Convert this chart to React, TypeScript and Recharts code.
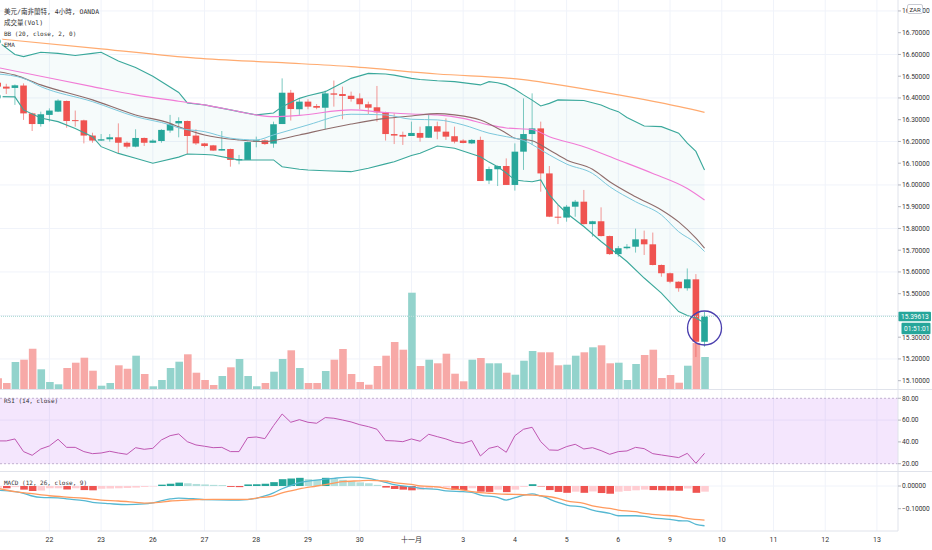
import React from 'react';
import {
  ComposedChart, Bar, Line, Area, XAxis, YAxis, CartesianGrid,
  ReferenceLine, ReferenceArea, ReferenceDot, Cell,
} from 'recharts';

// USD/ZAR 4h bars; bar -1 sits half outside the left edge of the pane
const FIRST_BAR = -1;

const opens = [
  16.470, 16.452, 16.446, 16.457, 16.329, 16.280, 16.322, 16.337, 16.386, 16.298,
  16.297, 16.227, 16.204, 16.210, 16.219, 16.194, 16.176, 16.216, 16.194, 16.202,
  16.250, 16.283, 16.294, 16.227, 16.191, 16.182, 16.158, 16.165, 16.113, 16.115,
  16.199, 16.205, 16.190, 16.280, 16.424, 16.348, 16.383, 16.363, 16.355, 16.421,
  16.418, 16.410, 16.398, 16.371, 16.357, 16.334, 16.234, 16.230, 16.225, 16.239,
  16.217, 16.270, 16.245, 16.224, 16.204, 16.191, 16.207, 16.020, 16.072, 16.087,
  16.000, 16.153, 16.234, 16.260, 16.053, 15.854, 15.850, 15.900, 15.923, 15.820,
  15.833, 15.765, 15.682, 15.709, 15.716, 15.750, 15.727, 15.632, 15.594, 15.555,
  15.525, 15.566, 15.279,
];
const highs = [
  16.480, 16.465, 16.462, 16.467, 16.332, 16.337, 16.352, 16.394, 16.388, 16.342,
  16.300, 16.240, 16.234, 16.234, 16.283, 16.200, 16.256, 16.218, 16.210, 16.256,
  16.322, 16.311, 16.296, 16.256, 16.193, 16.184, 16.248, 16.167, 16.138, 16.199,
  16.222, 16.210, 16.291, 16.490, 16.437, 16.394, 16.394, 16.372, 16.434, 16.480,
  16.452, 16.429, 16.421, 16.383, 16.455, 16.337, 16.329, 16.245, 16.291, 16.268,
  16.326, 16.291, 16.306, 16.268, 16.210, 16.211, 16.222, 16.084, 16.090, 16.122,
  16.191, 16.398, 16.421, 16.291, 16.087, 15.908, 15.908, 15.931, 15.977, 15.835,
  15.897, 15.767, 15.719, 15.728, 15.799, 15.790, 15.781, 15.634, 15.597, 15.557,
  15.616, 15.590, 15.417,
];
const lows = [
  16.445, 16.418, 16.368, 16.299, 16.248, 16.268, 16.291, 16.335, 16.263, 16.268,
  16.191, 16.194, 16.202, 16.199, 16.145, 16.168, 16.173, 16.179, 16.194, 16.194,
  16.240, 16.219, 16.142, 16.184, 16.173, 16.156, 16.158, 16.084, 16.095, 16.115,
  16.173, 16.184, 16.171, 16.280, 16.296, 16.322, 16.348, 16.348, 16.256, 16.360,
  16.302, 16.383, 16.348, 16.325, 16.291, 16.204, 16.188, 16.184, 16.225, 16.199,
  16.217, 16.210, 16.207, 16.191, 16.191, 16.188, 16.018, 16.004, 15.995, 16.000,
  15.974, 16.069, 16.184, 15.969, 15.852, 15.820, 15.831, 15.854, 15.818, 15.762,
  15.763, 15.678, 15.670, 15.704, 15.689, 15.678, 15.630, 15.578, 15.548, 15.509,
  15.514, 15.209, 15.256,
];
const closes = [
  16.452, 16.443, 16.458, 16.329, 16.280, 16.325, 16.342, 16.388, 16.294, 16.296,
  16.227, 16.204, 16.210, 16.219, 16.194, 16.176, 16.216, 16.194, 16.204, 16.253,
  16.280, 16.294, 16.225, 16.191, 16.179, 16.158, 16.165, 16.115, 16.119, 16.197,
  16.205, 16.188, 16.279, 16.424, 16.349, 16.383, 16.360, 16.355, 16.421, 16.415,
  16.409, 16.395, 16.371, 16.355, 16.334, 16.234, 16.227, 16.222, 16.239, 16.217,
  16.270, 16.245, 16.222, 16.199, 16.193, 16.207, 16.018, 16.073, 16.087, 16.000,
  16.153, 16.234, 16.260, 16.053, 15.854, 15.850, 15.900, 15.923, 15.820, 15.833,
  15.765, 15.682, 15.709, 15.716, 15.750, 15.727, 15.632, 15.594, 15.555, 15.525,
  15.566, 15.279, 15.396,
];
const volumes = [
  11.7, 7, 28, 30.3, 41.3, 20.7, 8, 5.7, 22, 27.3,
  32.3, 19.3, 4.3, 7, 24.7, 21.3, 34.3, 16, 3.7, 10,
  22, 28.3, 35.7, 17.3, 10, 5, 14, 22.7, 31, 14,
  3.7, 7, 18.3, 31, 39.7, 22, 7, 7, 19, 30.3,
  41, 16, 8, 5.3, 24, 34.3, 48, 40.3, 97.3, 24,
  30.3, 26.7, 36.3, 16.3, 8.7, 30.3, 32, 26.7, 26.7, 17.3,
  15.3, 29.3, 39, 37.7, 37.7, 24.7, 25.3, 34.3, 37.7, 42.7,
  44.7, 26.7, 27.3, 10, 26, 35, 40.3, 12, 15, 7.3,
  24.3, 47, 33,
];
const rsiValues = [
  40.9, 40.9, 42.7, 31.1, 27.7, 33.5, 36.3, 42.4, 35.0, 35.0,
  31.1, 29.2, 29.8, 31.4, 29.8, 28.6, 34.7, 33.2, 34.1, 41.8,
  45.7, 47.3, 40.2, 37.2, 36.0, 34.7, 35.0, 31.1, 31.1, 43.9,
  44.5, 43.0, 54.9, 65.6, 58.0, 60.4, 58.0, 57.1, 62.3, 61.7,
  60.1, 58.3, 55.8, 54.0, 51.6, 41.2, 40.9, 40.2, 42.7, 40.6,
  47.0, 44.8, 42.7, 39.9, 38.7, 41.2, 27.1, 34.1, 36.0, 30.5,
  45.7, 51.6, 53.4, 40.2, 32.6, 32.3, 35.7, 37.8, 33.5, 34.7,
  32.0, 28.6, 31.1, 31.7, 35.0, 33.8, 29.2, 28.0, 26.8, 25.6,
  29.5, 20.4, 29.5,
];
const histValues = [
  -0.008, -0.010, -0.005, -0.016, -0.022, -0.020, -0.010, -0.010, -0.015, -0.010,
  -0.018, -0.019, -0.012, -0.011, -0.010, -0.009, -0.007, -0.004, -0.002, 0.006,
  0.010, 0.015, 0.012, 0.009, 0.007, 0.005, 0.004, -0.004, -0.005, 0.007,
  0.008, 0.010, 0.017, 0.030, 0.033, 0.036, 0.030, 0.028, 0.036, 0.031,
  0.027, 0.021, 0.016, 0.012, 0.005, -0.007, -0.013, -0.016, -0.019, -0.017,
  -0.012, -0.008, -0.007, -0.017, -0.018, -0.010, -0.025, -0.026, -0.016, -0.027,
  -0.016, -0.004, 0.008, -0.002, -0.018, -0.026, -0.030, -0.025, -0.030, -0.024,
  -0.031, -0.034, -0.025, -0.022, -0.019, -0.016, -0.018, -0.019, -0.020, -0.021,
  -0.011, -0.030, -0.025,
];

// Bollinger bands, read at the same bars for both edges
const bbIdx = [
  -1, 1, 2, 4, 6, 8, 10, 11, 13, 15, 17, 20, 21, 23, 24, 26, 27, 29, 31, 32,
  34, 35, 37, 40, 42, 44, 45, 47, 48, 50, 52, 55, 56, 57, 58, 59, 60, 61, 62, 63,
  64, 65, 67, 69, 70, 71, 72, 74, 76, 78, 79, 80, 81,
];
const bbUpper = [
  16.66, 16.60, 16.59, 16.61, 16.605, 16.595, 16.605, 16.61, 16.57, 16.54,
  16.50, 16.425, 16.377, 16.368, 16.36, 16.345, 16.337, 16.322, 16.331, 16.360,
  16.398, 16.41, 16.429, 16.490, 16.513, 16.510, 16.505, 16.490, 16.485, 16.479,
  16.475, 16.460, 16.475, 16.47, 16.460, 16.44, 16.414, 16.39, 16.363, 16.375,
  16.391, 16.39, 16.388, 16.368, 16.35, 16.337, 16.31, 16.271, 16.268, 16.238,
  16.192, 16.154, 16.069,
];
const bbLower = [
  16.406, 16.405, 16.345, 16.308, 16.291, 16.26, 16.222, 16.176, 16.145, 16.123,
  16.100, 16.128, 16.142, 16.14, 16.138, 16.122, 16.115, 16.115, 16.115, 16.084,
  16.072, 16.069, 16.065, 16.061, 16.077, 16.097, 16.107, 16.135, 16.146, 16.179,
  16.169, 16.130, 16.105, 16.084, 16.055, 16.023, 16.018, 16.015, 16.023, 15.954,
  15.91, 15.870, 15.809, 15.74, 15.709, 15.68, 15.648, 15.572, 15.503, 15.418,
  15.40, 15.388, 15.365,
];

// moving averages, [bar, value]
const emaOrange = [
  [-1, 16.672], [11, 16.626], [22, 16.583], [32, 16.562], [40, 16.544], [50, 16.51],
  [60, 16.484], [63, 16.467], [71, 16.414], [76, 16.377], [81, 16.334],
];
const emaPink = [
  [-1, 16.54], [4, 16.50], [10, 16.452], [15, 16.414], [20, 16.385], [23, 16.368],
  [27, 16.337], [29, 16.322], [31, 16.314], [34, 16.320], [40, 16.345], [44, 16.333],
  [47, 16.326], [50, 16.322], [53, 16.306], [56, 16.276], [58, 16.262], [61, 16.255],
  [63, 16.222], [67, 16.176], [71, 16.115], [75, 16.053], [79, 15.984], [81, 15.931],
];
const emaBrown = [
  [-1, 16.521], [1, 16.505], [4, 16.460], [10, 16.391], [15, 16.322], [19, 16.283],
  [20, 16.268], [23, 16.230], [27, 16.207], [30, 16.199], [31, 16.204], [34, 16.230],
  [40, 16.28], [44, 16.306], [47, 16.317], [50, 16.328], [52, 16.322], [55, 16.299],
  [58, 16.238], [59, 16.215], [61, 16.203], [63, 16.161], [65, 16.115], [68, 16.072],
  [70, 16.015], [73, 15.946], [76, 15.885], [78, 15.83], [80, 15.755], [81, 15.709],
];
const emaBlue = [
  [-1, 16.51], [2, 16.49], [4, 16.452], [10, 16.383], [15, 16.314], [19, 16.276],
  [20, 16.262], [23, 16.245], [26, 16.215], [29, 16.207], [31, 16.230], [33, 16.253],
  [35, 16.276], [40, 16.325], [44, 16.322], [47, 16.302], [50, 16.299], [53, 16.276],
  [56, 16.238], [58, 16.222], [60, 16.205], [63, 16.138], [65, 16.096], [68, 16.053],
  [70, 15.992], [73, 15.923], [76, 15.862], [78, 15.785], [80, 15.732], [81, 15.694],
];
const macdLine = [
  [-1, -0.019], [1, -0.025], [2, -0.032], [3, -0.044], [4, -0.050], [6, -0.052],
  [7, -0.057], [9, -0.064], [10, -0.072], [12, -0.078], [14, -0.082], [16, -0.079],
  [17, -0.074], [19, -0.057], [20, -0.053], [22, -0.057], [23, -0.060], [26, -0.062],
  [27, -0.062], [29, -0.054], [30, -0.044], [31, -0.030], [32, -0.012], [33, 0.002],
  [34, 0.015], [36, 0.026], [38, 0.034], [40, 0.039], [42, 0.034], [43, 0.026],
  [44, 0.016], [45, 0.006], [47, -0.004], [48, -0.010], [50, -0.015], [51, -0.021],
  [53, -0.025], [54, -0.028], [55, -0.040], [57, -0.050], [58, -0.062], [59, -0.051],
  [61, -0.035], [62, -0.044], [64, -0.072], [65, -0.084], [67, -0.094], [68, -0.106],
  [70, -0.121], [71, -0.131], [73, -0.131], [74, -0.134], [75, -0.140], [77, -0.147],
  [78, -0.153], [79, -0.154], [80, -0.169], [81, -0.175],
];
const signalLine = [
  [-1, -0.010], [1, -0.025], [3, -0.034], [5, -0.043], [7, -0.049], [9, -0.054],
  [11, -0.062], [13, -0.066], [15, -0.072], [16, -0.075], [18, -0.071], [19, -0.066],
  [21, -0.062], [22, -0.060], [24, -0.059], [28, -0.059], [29, -0.053], [31, -0.043],
  [32, -0.030], [34, -0.013], [36, 0.000], [38, 0.013], [39, 0.019], [41, 0.023],
  [42, 0.025], [44, 0.022], [45, 0.015], [47, 0.007], [48, 0.001], [50, -0.004],
  [51, -0.010], [53, -0.018], [54, -0.025], [56, -0.032], [57, -0.035], [59, -0.037],
  [61, -0.040], [62, -0.043], [64, -0.054], [65, -0.066], [67, -0.076], [68, -0.088],
  [70, -0.099], [71, -0.106], [73, -0.113], [74, -0.121], [76, -0.128], [78, -0.135],
  [79, -0.143], [81, -0.150],
];

const dayTicks = [5, 11, 17, 23, 29, 35, 41, 47, 53, 59, 65, 71, 77, 83, 89, 95, 101];
const dayLabels = ['22', '23', '26', '27', '28', '29', '30', '十一月', '3', '4', '5', '6', '9', '10', '11', '12', '13'];
const priceGrid = [15.1, 15.2, 15.3, 15.4, 15.5, 15.6, 15.7, 15.8, 15.9, 16.0, 16.1, 16.2, 16.3, 16.4, 16.5, 16.6, 16.7, 16.8];
// 15.40000 sits under the last-price tag, so it gets no label
const priceTicks = priceGrid.filter((p) => p !== 15.4);
const rsiTicks = [20, 40, 60, 80];
const macdTicks = [-0.1, 0];

const LAST_PRICE = 15.39613;
const COUNTDOWN = '01:51:01';

const UP = '#26a69a';
const DOWN = '#ef5350';
const GRID = '#f0f3fa';
const BORDER = '#e0e3eb';
const X_DOMAIN: [number, number] = [-0.731, 103.445];

const candles = opens.map((open, k) => ({
  i: FIRST_BAR + k,
  open,
  high: highs[k],
  low: lows[k],
  close: closes[k],
  range: [lows[k], highs[k]],
  vol: volumes[k],
  rsi: rsiValues[k],
  hist: histValues[k],
}));
const bbData = bbIdx.map((i, k) => ({ i, up: bbUpper[k], lo: bbLower[k], band: [bbLower[k], bbUpper[k]] }));
const toPts = (arr: number[][]) => arr.map(([i, v]) => ({ i, v }));

const histColor = (k: number) => {
  const v = histValues[k];
  const prev = k > 0 ? histValues[k - 1] : v;
  if (v >= 0) return v >= prev ? '#26a69a' : '#b2dfdb';
  return v < prev ? '#ef5350' : '#ffcdd2';
};

const axisTick = { fontSize: 6.6, fill: '#333', fontFamily: 'Roboto' };
const fmt5 = (v: number) => (v < 0 ? '\u2212' + Math.abs(v).toFixed(5) : v.toFixed(5));

const Candle = (props: any) => {
  const { x, y, width, height, payload } = props;
  if (x == null || payload == null) return null;
  const top = Math.min(y, y + height);
  const h = Math.abs(height);
  const { open, close, high, low } = payload;
  const color = close >= open ? UP : DOWN;
  const k = h / (high - low || 1e-9);
  const bodyTop = top + (high - Math.max(open, close)) * k;
  const bodyH = Math.max(Math.abs(open - close) * k, 1);
  const cx = x + width / 2;
  return (
    <g>
      <line x1={cx} x2={cx} y1={top} y2={top + h} stroke={color} strokeOpacity={0.6} strokeWidth={1} />
      <rect x={x} y={bodyTop} width={width} height={bodyH} fill={color} />
    </g>
  );
};

const LastPriceTag = (props: any) => {
  const vb = props.viewBox || {};
  const x = vb.x + vb.width;
  const y = vb.y;
  return (
    <g fontFamily="Roboto" fontSize={6.6}>
      <rect x={x} y={y - 4.5} width={33} height={9.5} fill={UP} rx={1} />
      <text x={x + 3} y={y + 2.4} fill="#fff">{LAST_PRICE.toFixed(5)}</text>
      <rect x={x + 3.5} y={y + 6.5} width={29} height={11.5} fill={UP} rx={1} />
      <text x={x + 6} y={y + 14.6} fill="#fff">{COUNTDOWN}</text>
    </g>
  );
};

const legendStyle: React.CSSProperties = {
  position: 'absolute',
  left: 4,
  fontSize: 6,
  lineHeight: '8px',
  color: '#333',
  fontFamily: '"DejaVu Sans Mono", "Noto Sans CJK TC", monospace',
  whiteSpace: 'nowrap',
  pointerEvents: 'none',
};

const hline = (top: number): React.CSSProperties => ({
  position: 'absolute', left: 0, top, width: 932, height: 1, background: BORDER,
});

export default function App() {
  return (
    <div style={{ position: 'fixed', left: 0, top: 0, width: 932, height: 550, background: '#fff', overflow: 'hidden' }}>
      {/* price pane */}
      <div style={{ position: 'absolute', left: 0, top: 0 }}>
        <ComposedChart width={932} height={390} data={candles} margin={{ top: 0, right: 0, bottom: 0, left: 0 }}>
          <CartesianGrid stroke={GRID} horizontalValues={priceGrid} verticalValues={dayTicks} />
          <XAxis dataKey="i" type="number" domain={X_DOMAIN} allowDataOverflow hide ticks={dayTicks} />
          <XAxis xAxisId="v" dataKey="i" type="number" domain={X_DOMAIN} allowDataOverflow hide />
          <YAxis
            orientation="right" width={34} domain={[15.0572, 16.8503]} allowDataOverflow
            ticks={priceTicks} tickFormatter={fmt5} tick={axisTick}
            tickSize={3} tickMargin={1} stroke={BORDER} tickLine={{ stroke: '#b2b5be' }}
          />
          <YAxis yAxisId="v" hide domain={[0, 390]} allowDataOverflow />
          <Area data={bbData} dataKey="band" stroke="none" fill={UP} fillOpacity={0.045} isAnimationActive={false} />
          <Bar xAxisId="v" yAxisId="v" dataKey="vol" barSize={7.6} isAnimationActive={false}>
            {candles.map((c, k) => (
              <Cell key={k} fill={c.close >= c.open ? '#93d3cc' : '#f7a9a7'} />
            ))}
          </Bar>
          <Line data={bbData} dataKey="up" stroke="#3aa89b" strokeWidth={1.1} dot={false} activeDot={false} isAnimationActive={false} />
          <Line data={bbData} dataKey="lo" stroke="#3aa89b" strokeWidth={1.1} dot={false} activeDot={false} isAnimationActive={false} />
          <Line data={toPts(emaOrange)} dataKey="v" type="monotone" stroke="#ffab70" strokeWidth={1.2} dot={false} activeDot={false} isAnimationActive={false} />
          <Line data={toPts(emaPink)} dataKey="v" type="monotone" stroke="#f17bd6" strokeWidth={1.1} dot={false} activeDot={false} isAnimationActive={false} />
          <Line data={toPts(emaBrown)} dataKey="v" type="monotone" stroke="#8e6c6b" strokeWidth={1.1} dot={false} activeDot={false} isAnimationActive={false} />
          <Line data={toPts(emaBlue)} dataKey="v" type="monotone" stroke="#7cc8dc" strokeWidth={1} dot={false} activeDot={false} isAnimationActive={false} />
          <Bar dataKey="range" barSize={6.6} shape={<Candle />} isAnimationActive={false} />
          <ReferenceLine y={LAST_PRICE} stroke="#b5ddd8" strokeWidth={1.3} strokeDasharray="1 1" label={<LastPriceTag />} />
          <ReferenceDot x={81} y={15.3423} r={17} fill="none" stroke="#4a3fae" strokeWidth={1.3} />
        </ComposedChart>
      </div>

      {/* RSI pane */}
      <div style={{ position: 'absolute', left: 0, top: 390 }}>
        <ComposedChart width={932} height={81} data={candles} margin={{ top: 0, right: 0, bottom: 0, left: 0 }}>
          <CartesianGrid stroke={GRID} horizontalValues={[40, 60]} verticalValues={dayTicks} />
          <XAxis dataKey="i" type="number" domain={X_DOMAIN} allowDataOverflow hide ticks={dayTicks} />
          <YAxis
            orientation="right" width={34} domain={[13.3, 87.61]} allowDataOverflow
            ticks={rsiTicks} tickFormatter={(v: number) => v.toFixed(2)} tick={axisTick}
            tickSize={3} tickMargin={1} stroke={BORDER} tickLine={{ stroke: '#b2b5be' }}
          />
          <ReferenceArea y1={20} y2={80} fill="#a330ee" fillOpacity={0.12} stroke="none" />
          <ReferenceLine y={80} stroke="#c0b0d0" strokeDasharray="2 2" />
          <ReferenceLine y={20} stroke="#c0b0d0" strokeDasharray="2 2" />
          <Line dataKey="rsi" stroke="#bf56b2" strokeWidth={1} dot={false} activeDot={false} isAnimationActive={false} />
        </ComposedChart>
      </div>

      {/* MACD pane + time axis */}
      <div style={{ position: 'absolute', left: 0, top: 471 }}>
        <ComposedChart width={932} height={79} data={candles} margin={{ top: 0, right: 0, bottom: 0, left: 0 }}>
          <CartesianGrid stroke={GRID} horizontalValues={macdTicks} verticalValues={dayTicks} />
          <XAxis
            dataKey="i" type="number" domain={X_DOMAIN} allowDataOverflow ticks={dayTicks} interval={0}
            tickFormatter={(v: number) => dayLabels[dayTicks.indexOf(v)] ?? ''}
            height={19} tickLine={false} tickSize={0} tickMargin={6} stroke={BORDER}
            tick={{ fontSize: 7, fill: '#333', fontFamily: 'Roboto, "Noto Sans CJK TC"' }}
          />
          <YAxis
            orientation="right" width={34} domain={[-0.1982, 0.0661]} allowDataOverflow
            ticks={macdTicks} tickFormatter={fmt5} tick={axisTick}
            tickSize={3} tickMargin={1} stroke={BORDER} tickLine={{ stroke: '#b2b5be' }}
          />
          <Bar dataKey="hist" barSize={7.6} isAnimationActive={false}>
            {candles.map((_, k) => (
              <Cell key={k} fill={histColor(k)} />
            ))}
          </Bar>
          <Line data={toPts(macdLine)} dataKey="v" type="monotone" stroke="#56b8d2" strokeWidth={1.3} dot={false} activeDot={false} isAnimationActive={false} />
          <Line data={toPts(signalLine)} dataKey="v" type="monotone" stroke="#ff9a5e" strokeWidth={1.3} dot={false} activeDot={false} isAnimationActive={false} />
        </ComposedChart>
      </div>

      <div style={hline(389)} />
      <div style={hline(471)} />

      <div style={{ ...legendStyle, top: 8, fontSize: 6.5 }}>美元/南非蘭特, 4小時, OANDA</div>
      <div style={{ ...legendStyle, top: 19, fontSize: 6.5 }}>成交量(Vol)</div>
      <div style={{ ...legendStyle, top: 30 }}>BB (20, close, 2, 0)</div>
      <div style={{ ...legendStyle, top: 41 }}>EMA</div>
      <div style={{ ...legendStyle, top: 397 }}>RSI (14, close)</div>
      <div style={{ ...legendStyle, top: 479 }}>MACD (12, 26, close, 9)</div>

      <div
        style={{
          position: 'absolute', left: 907, top: 4, width: 16, height: 10, background: '#fff',
          border: '1px solid #c8cbd3', borderRadius: 2, fontSize: 6, lineHeight: '10px',
          textAlign: 'center', color: '#333', fontFamily: 'Roboto', boxSizing: 'border-box',
        }}
      >
        ZAR
      </div>
    </div>
  );
}
